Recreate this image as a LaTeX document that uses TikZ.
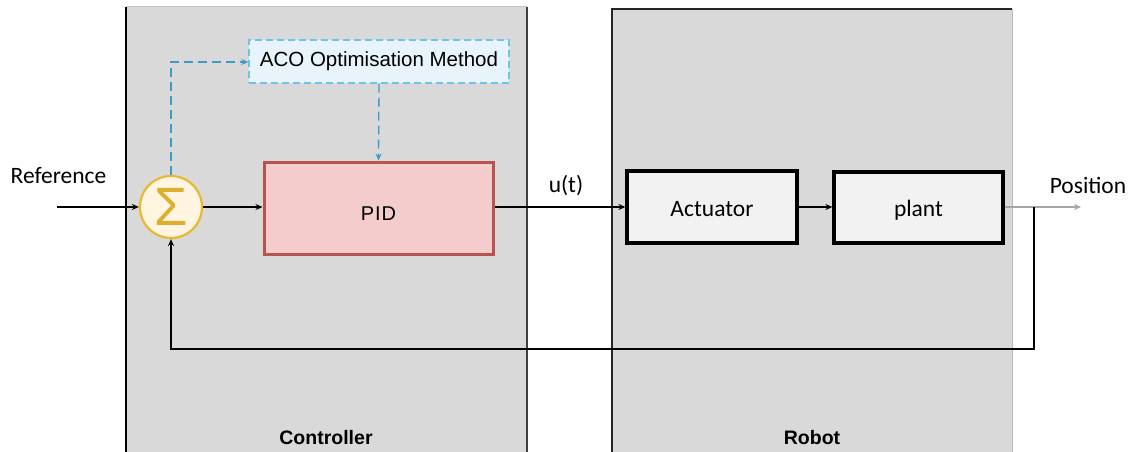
\documentclass[tikz,border=0pt]{standalone}
\usepackage{fontspec}
\setmainfont{Carlito}
\newfontfamily\arial{Liberation Sans}
\usetikzlibrary{arrows.meta}
\definecolor{panelgray}{HTML}{D9D9D9}
\definecolor{acoline}{HTML}{3A9CC8}
\definecolor{acobox}{HTML}{6EC3E6}
\definecolor{acofill}{HTML}{E8F4FB}
\definecolor{pidfill}{HTML}{F4CCCC}
\definecolor{pidline}{HTML}{B85450}
\definecolor{sumfill}{HTML}{FFF5E1}
\definecolor{sumline}{HTML}{E8B830}
\definecolor{boxfill}{HTML}{F2F2F2}
\tikzset{
  panel/.style={fill=panelgray, draw=none},
  blockbox/.style={draw=black, line width=3.2pt, fill=boxfill, font=\fontsize{23.5}{27}\selectfont,
                   text height=23pt, text depth=5pt},
  sig/.style={line width=1.3pt, -{Stealth[length=7pt,width=6pt]}},
  dsig/.style={line width=1.3pt, draw=acoline, dash pattern=on 9pt off 5pt, -{Stealth[length=7pt,width=6pt,fill=acoline]}},
  lbl/.style={font=\fontsize{23.5}{27}\selectfont, inner sep=0pt},
  plbl/.style={font=\arial\bfseries\fontsize{19.5}{23}\selectfont, inner sep=0pt}
}
\begin{document}
\begin{tikzpicture}[x=1pt,y=-1pt]
\useasboundingbox (0,0) rectangle (1132,452);
% panels
\fill[panel] (126,7) rectangle (527,452);
\draw[gray!45, line width=1pt] (126,7) -- (527,7);
\draw[black, line width=1.4pt] (126,7) -- (126,452);
\draw[black!75, line width=1.4pt] (527,7) -- (527,452);
\fill[panel] (612,9) rectangle (1012,452);
\draw[black!85, line width=1.4pt] (612,452) -- (612,9) -- (1012,9);
\draw[gray!55, line width=1pt] (1012,9) -- (1012,452);
\node[plbl] (ctrl) at (326,438) {Controller};
\node[plbl] (robot) at (812,438) {Robot};
% blocks
\node[draw=acobox, line width=1.4pt, dash pattern=on 7pt off 4pt, fill=acofill,
      minimum width=260pt, minimum height=43pt, inner sep=0pt,
      font=\arial\fontsize{20.5}{24}\selectfont] (aco) at (379,61.5) {ACO Optimisation Method};
\node[draw=pidline, line width=3pt, fill=pidfill, minimum width=229pt, minimum height=92pt,
      text height=24pt, text depth=0pt,
      font=\arial\fontsize{20}{23}\selectfont] (pid) at (378.5,208) {P\kern1pt I\kern1pt D};
\node[circle, draw=sumline, line width=2.2pt, fill=sumfill, minimum size=62pt, inner sep=0pt,
      text=sumline!95!black, font=\arial\fontsize{54}{58}\selectfont] (sum) at (171,207) {\raisebox{-5pt}{Σ}};
\node[blockbox, minimum width=170pt, minimum height=72pt] (act) at (712,207) {Actuator};
\node[blockbox, minimum width=169pt, minimum height=71pt] (plant) at (918.5,207.5) {plant};
% labels
\node[lbl] (ref) at (58.5,176) {Reference};
\node[lbl] (ut) at (566,186) {u(t)};
\node[lbl] (pos) at (1088,185) {Position};
% coordinates
\coordinate (in) at (57,207);
\coordinate (out) at (1081,207);
\coordinate (fb) at (1034,207);
\coordinate (fbb) at (1034,349);
\coordinate (dup) at (171,62);
% connectors
\draw[sig] (in) -- (sum.west);
\draw[sig] (sum.east) -- (pid.west |- sum.east);
\draw[sig] (pid.east |- act.west) -- (act.west);
\draw[sig] (act.east) -- (plant.west |- act.east);
\draw[line width=1.1pt, draw=gray!70, -{Stealth[length=7pt,width=6pt,fill=black]}] (plant.east |- out) -- (out);
\draw[sig] (fb) -- (fbb) -| (sum.south);
\draw[dsig] (sum.north) -- (dup) -- (aco.west |- dup);
\draw[dsig] (aco.south) -- (pid.north);
\end{tikzpicture}
\end{document}
